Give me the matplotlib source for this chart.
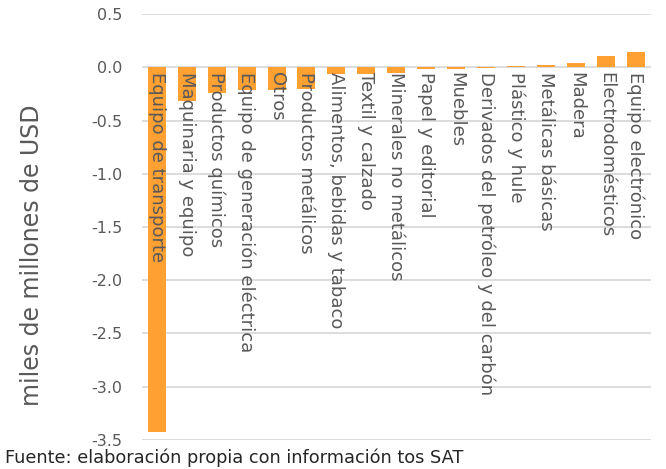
import matplotlib
matplotlib.use('Agg')
import matplotlib.pyplot as plt

sectores = ['Equipo de transporte', 'Maquinaria y equipo', 'Productos químicos',
            'Equipo de generación eléctrica', 'Otros', 'Productos metálicos',
            'Alimentos, bebidas y tabaco', 'Textil y calzado', 'Minerales no metálicos',
            'Papel y editorial', 'Muebles', 'Derivados del petróleo y del carbón',
            'Plástico y hule', 'Metálicas básicas', 'Madera', 'Electrodomésticos',
            'Equipo electrónico']
valores = [-3.43, -0.32, -0.245, -0.215, -0.21, -0.205, -0.06, -0.06, -0.053,
           -0.02, -0.013, -0.003, 0.012, 0.02, 0.045, 0.105, 0.147]
yticks = [0.5, 0.0, -0.5, -1.0, -1.5, -2.0, -2.5, -3.0, -3.5]

naranja = '#ffa033'
gris_txt = '#595959'

fig = plt.figure(figsize=(6.66, 4.69), dpi=100)
ax = fig.add_axes([0.213, 0.062, 0.764, 0.908])

x = list(range(len(sectores)))
ax.bar(x, valores, width=0.6, color=naranja, zorder=2)

# etiquetas rotadas dentro del area, empezando en cero
for i, s in enumerate(sectores):
    ax.text(i, -0.04, s, rotation=270, ha='left', va='center',
            fontsize=13, color=gris_txt, zorder=3, rotation_mode='anchor')

ax.set_xlim(-0.5, len(sectores) - 0.5)
ax.set_ylim(-3.5, 0.5)
ax.set_yticks(yticks)
ax.set_yticklabels(['%.1f' % v for v in yticks], fontsize=11.5, color=gris_txt)
ax.set_xticks([])
ax.tick_params(axis='y', length=0, pad=14)
ax.yaxis.grid(True, color='#d9d9d9', linewidth=1.3, zorder=0)
ax.set_axisbelow(True)
for sp in ax.spines.values():
    sp.set_visible(False)

ax.set_ylabel('miles de millones de USD', fontsize=17, color=gris_txt)
ax.yaxis.set_label_coords(-0.193, 0.434)

fig.text(0.008, 0.005, 'Fuente: elaboración propia con información tos SAT',
         fontsize=12.8, color='#262626', ha='left', va='bottom')

fig.savefig('out.png', dpi=100)
